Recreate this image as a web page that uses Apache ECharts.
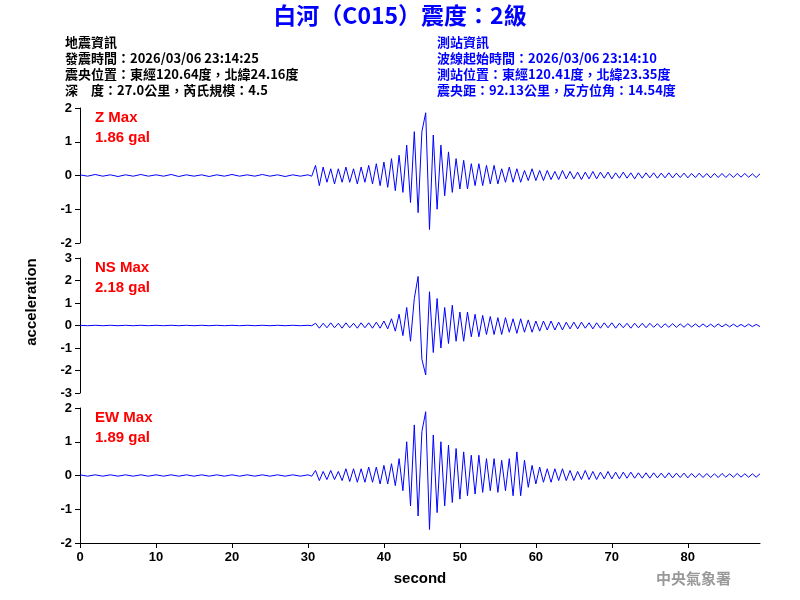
<!DOCTYPE html>
<html><head><meta charset="utf-8">
<script src="https://cdn.jsdelivr.net/npm/echarts@6/dist/echarts.min.js"></script>
<style>html,body{margin:0;padding:0;background:#fff}#c{width:800px;height:600px}</style>
</head><body><div id="c"></div>
<script>
// pre-event noise, t = 0..29 step 1 s
const preZ = [0.02,-0.02,0.03,-0.02,0.02,-0.03,0.02,-0.02,0.03,-0.02,0.02,-0.02,0.03,-0.03,0.02,-0.02,0.02,-0.03,0.02,-0.02,0.03,-0.02,0.02,-0.02,0.03,-0.02,0.02,-0.03,0.02,-0.02];
const preNS = [0.01,-0.01,0.01,-0.01,0.01,-0.01,0.01,-0.01,0.01,-0.01,0.01,-0.01,0.01,-0.01,0.01,-0.01,0.01,-0.01,0.01,-0.01,0.01,-0.01,0.01,-0.01,0.01,-0.01,0.01,-0.01,0.01,-0.01];
const preEW = [0.02,-0.02,0.02,-0.02,0.02,-0.02,0.02,-0.02,0.02,-0.02,0.02,-0.02,0.02,-0.02,0.02,-0.02,0.02,-0.02,0.02,-0.02,0.02,-0.02,0.02,-0.02,0.02,-0.02,0.02,-0.02,0.02,-0.02];
// event, t = 30..89.5 step 0.5 s
const zVals = [0.02,-0.02,0.3,-0.3,0.25,-0.2,0.2,-0.25,0.2,-0.2,0.25,-0.2,0.2,-0.25,0.25,-0.2,0.3,-0.25,0.35,-0.3,
 0.4,-0.35,0.5,-0.45,0.6,-0.5,0.9,-0.8,1.3,-1.1,
 1.3,1.86,-1.6,1.2,-1.0,0.9,
 -0.6,0.7,-0.5,0.5,
 -0.4,0.45,-0.4,0.35,-0.3,0.35,-0.3,0.3,-0.25,0.3,
 -0.25,0.2,-0.2,0.25,-0.2,0.2,-0.2,0.15,-0.15,0.2,
 -0.15,0.15,-0.15,0.15,-0.12,0.12,-0.12,0.15,-0.1,0.12,
 -0.1,0.1,-0.12,0.1,-0.1,0.12,-0.1,0.1,-0.08,0.1,-0.1,0.08,-0.08,0.1,-0.08,0.08,-0.1,0.08,-0.08,0.08,
 -0.07,0.08,-0.08,0.07,-0.07,0.08,-0.07,0.07,-0.06,0.07,-0.07,0.06,-0.06,0.07,-0.06,0.06,-0.07,0.06,-0.06,0.06,
 -0.06,0.05,-0.06,0.06,-0.05,0.06,-0.05,0.05,-0.06,0.05];
const nsVals = [0.01,-0.01,0.1,-0.12,0.1,-0.1,0.12,-0.1,0.1,-0.12,0.12,-0.1,0.1,-0.12,0.12,-0.1,0.12,-0.12,0.15,-0.12,
 0.2,-0.15,0.3,-0.25,0.5,-0.45,0.8,-0.7,1.2,2.18,
 -1.5,-2.2,1.5,-1.2,1.2,-1.0,
 0.8,-0.8,0.9,-0.7,
 0.6,-0.7,0.6,-0.5,0.5,-0.5,0.45,-0.4,0.4,-0.4,
 0.35,-0.4,0.35,-0.3,0.3,-0.35,0.3,-0.3,0.25,-0.3,
 0.2,-0.25,0.2,-0.2,0.2,-0.2,0.15,-0.2,0.15,-0.15,
 0.15,-0.15,0.15,-0.12,0.12,-0.15,0.12,-0.12,0.12,-0.1,0.12,-0.12,0.1,-0.1,0.1,-0.12,0.1,-0.1,0.1,-0.1,
 0.1,-0.08,0.08,-0.1,0.08,-0.08,0.08,-0.08,0.07,-0.08,0.08,-0.07,0.07,-0.07,0.07,-0.07,0.06,-0.07,0.07,-0.06,
 0.06,-0.06,0.06,-0.06,0.05,-0.06,0.06,-0.05,0.05,-0.05];
const ewVals = [0.02,-0.02,0.15,-0.15,0.12,-0.12,0.15,-0.12,0.12,-0.15,0.2,-0.18,0.2,-0.2,0.2,-0.2,0.25,-0.2,0.25,-0.25,
 0.3,-0.25,0.35,-0.3,0.5,-0.45,1.0,-0.9,1.5,-1.2,
 1.3,1.89,-1.6,1.2,-1.1,1.0,
 -0.9,0.9,-0.8,0.8,
 -0.7,0.7,-0.6,0.6,-0.55,0.6,-0.5,0.5,-0.45,0.5,
 -0.5,0.45,-0.45,0.5,-0.6,0.7,-0.6,0.45,-0.35,0.3,
 -0.25,0.25,-0.2,0.2,-0.2,0.2,-0.15,0.2,-0.15,0.15,
 -0.15,0.12,-0.12,0.15,-0.12,0.12,-0.12,0.1,-0.1,0.12,-0.1,0.1,-0.1,0.1,-0.08,0.1,-0.08,0.08,-0.08,0.08,
 -0.08,0.08,-0.07,0.07,-0.07,0.08,-0.07,0.07,-0.06,0.07,-0.07,0.06,-0.06,0.06,-0.06,0.06,-0.06,0.05,-0.06,0.06,
 -0.05,0.05,-0.05,0.06,-0.05,0.05,-0.05,0.05,-0.05,0.05];
const panelNames = ['Z Max','NS Max','EW Max'];
const panelMax = ['1.86 gal','2.18 gal','1.89 gal'];
const yRanges = [2,3,2];

function build(pre, ev){
  const d=[]; pre.forEach((v,i)=>d.push([i,v])); ev.forEach((v,i)=>d.push([30+i*0.5,v])); return d;
}
const datas=[build(preZ,zVals),build(preNS,nsVals),build(preEW,ewVals)];
const tops=[108,258,408];
const font='"Noto Sans CJK TC","DejaVu Sans",sans-serif';
const option={
  animation:false,
  grid:tops.map(t=>({left:80,width:680,top:t,height:135})),
  xAxis:[0,1,2].map(i=>({type:'value',gridIndex:i,min:0,max:89.5,interval:10,show:i===2,
    axisLine:{onZero:false,lineStyle:{color:'#000'}},axisTick:{lineStyle:{color:'#000'}},splitLine:{show:false},
    axisLabel:{color:'#000',fontWeight:'bold',fontSize:13,fontFamily:'Arial',showMaxLabel:false},
    name:i===2?'second':'',nameLocation:'middle',nameGap:28,nameTextStyle:{color:'#000',fontWeight:'bold',fontSize:15,fontFamily:'Arial'}})),
  yAxis:[0,1,2].map(i=>({type:'value',gridIndex:i,min:-yRanges[i],max:yRanges[i],interval:1,
    axisLine:{show:true,lineStyle:{color:'#000'}},axisTick:{show:true,lineStyle:{color:'#000'}},splitLine:{show:false},
    axisLabel:{color:'#000',fontWeight:'bold',fontSize:13,fontFamily:'Arial'}})),
  series:datas.map((d,i)=>({type:'line',xAxisIndex:i,yAxisIndex:i,data:d,showSymbol:false,
    lineStyle:{width:1,color:'#0000ff'},itemStyle:{color:'#0000ff'}})),
  graphic:[
    {type:'text',left:'center',top:4,style:{text:'白河（C015）震度：2級',fill:'#0000ff',font:'bold 23px '+font}},
    {type:'text',left:65,top:34,style:{text:'地震資訊\n發震時間：2026/03/06 23:14:25\n震央位置：東經120.64度，北緯24.16度\n深　度：27.0公里，芮氏規模：4.5',fill:'#000',font:'bold 13px '+font,lineHeight:16}},
    {type:'text',left:437,top:34,style:{text:'測站資訊\n波線起始時間：2026/03/06 23:14:10\n測站位置：東經120.41度，北緯23.35度\n震央距：92.13公里，反方位角：14.54度',fill:'#0000ff',font:'bold 13px '+font,lineHeight:16}},
    ...[0,1,2].flatMap(i=>[
      {type:'text',left:95,top:tops[i]+2,style:{text:panelNames[i],fill:'#ff0000',font:'bold 15px Arial'}},
      {type:'text',left:95,top:tops[i]+22,style:{text:panelMax[i],fill:'#ff0000',font:'bold 15px Arial'}}
    ]),
    {type:'text',x:32,y:302,rotation:Math.PI/2,style:{text:'acceleration',fill:'#000',font:'bold 15px Arial',align:'center',verticalAlign:'middle'}},
    {type:'text',left:656,top:571,style:{text:'中央氣象署',fill:'#999',font:'bold 15px '+font}}
  ]
};
const ch=echarts.init(document.getElementById('c'));
ch.setOption(option);
</script></body></html>
